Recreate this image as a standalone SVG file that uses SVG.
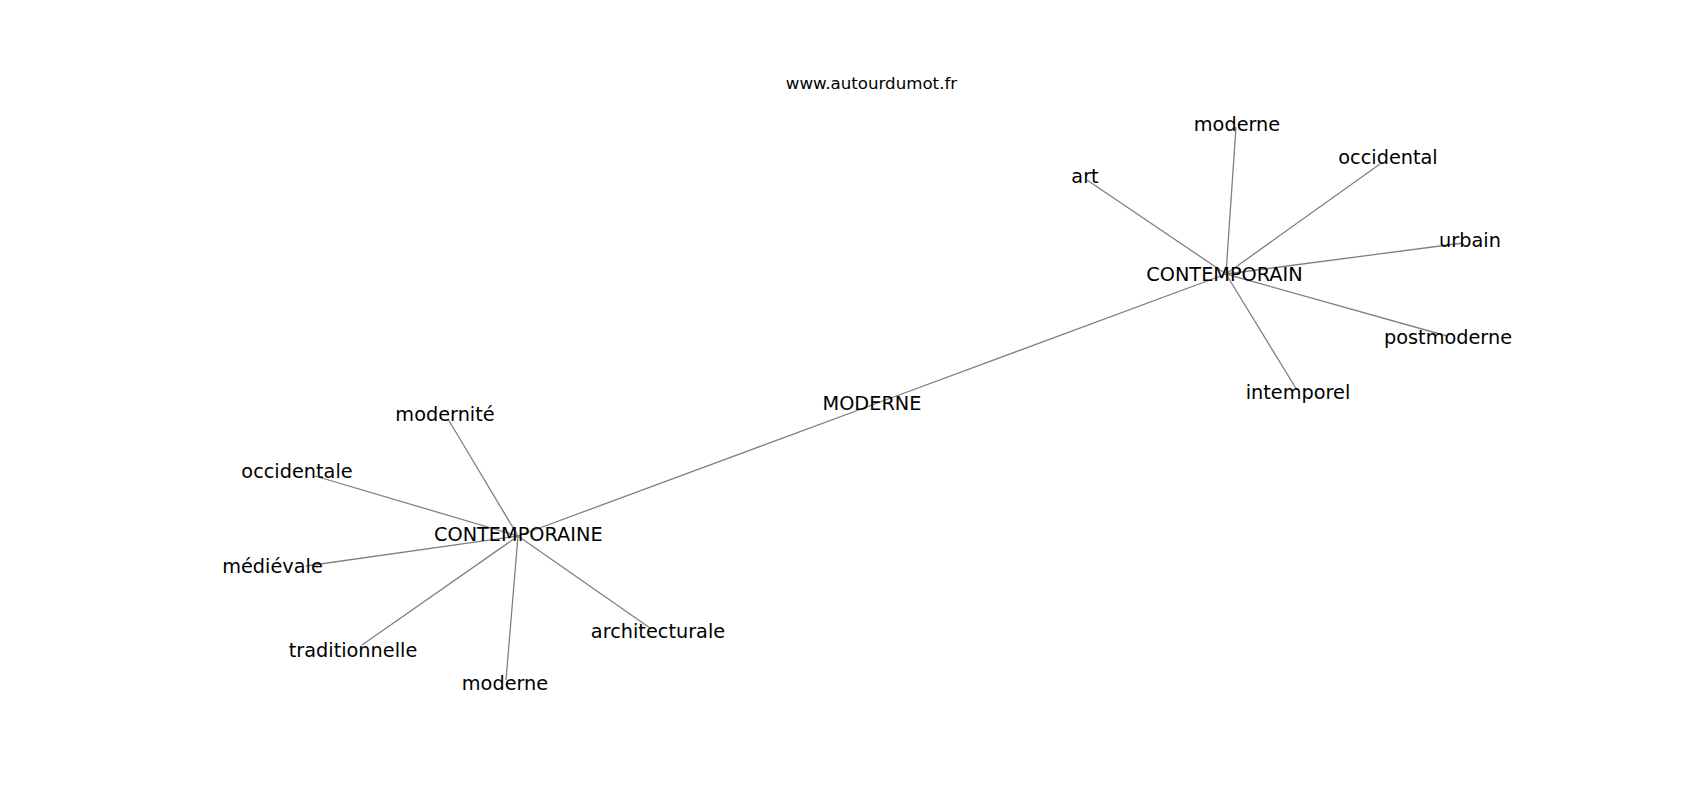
<svg xmlns="http://www.w3.org/2000/svg" width="1700" height="800" viewBox="0 0 1700 800">
<style>
.e{stroke:#808080;stroke-width:1.3;fill:none}
.l{font-family:"DejaVu Sans","Liberation Sans",sans-serif;font-size:19.3px;fill:#000;text-anchor:middle}
.u{font-family:"DejaVu Sans","Liberation Sans",sans-serif;font-size:16.67px;fill:#000;text-anchor:middle}
</style>
<rect width="1700" height="800" fill="#fff"/>
<g id="connectors">
<line class="e" x1="872" y1="405" x2="1226" y2="274"/>
<line class="e" x1="872" y1="405" x2="518" y2="536"/>
<line class="e" x1="1226" y1="274" x2="1087" y2="180"/>
<line class="e" x1="1226" y1="274" x2="1236" y2="127"/>
<line class="e" x1="1226" y1="274" x2="1380" y2="164"/>
<line class="e" x1="1226" y1="274" x2="1463" y2="243"/>
<line class="e" x1="1226" y1="274" x2="1447" y2="336"/>
<line class="e" x1="1226" y1="274" x2="1297" y2="390"/>
<line class="e" x1="518" y1="536" x2="448" y2="419"/>
<line class="e" x1="518" y1="536" x2="315" y2="476"/>
<line class="e" x1="518" y1="536" x2="306" y2="566"/>
<line class="e" x1="518" y1="536" x2="362" y2="645"/>
<line class="e" x1="518" y1="536" x2="506" y2="680"/>
<line class="e" x1="518" y1="536" x2="650" y2="628"/>
</g>
<text class="u" x="871.5" y="88.5">www.autourdumot.fr</text>
<g id="n-moderne-center"><text class="l" x="872" y="410">MODERNE</text></g>
<g id="n-contemporain"><text class="l" x="1224.5" y="280.5">CONTEMPORAIN</text></g>
<g id="n-art"><text class="l" x="1085" y="183">art</text></g>
<g id="n-moderne-r"><text class="l" x="1237" y="131">moderne</text></g>
<g id="n-occidental"><text class="l" x="1388" y="164">occidental</text></g>
<g id="n-urbain"><text class="l" x="1470" y="247">urbain</text></g>
<g id="n-postmoderne"><text class="l" x="1448" y="344">postmoderne</text></g>
<g id="n-intemporel"><text class="l" x="1298" y="399">intemporel</text></g>
<g id="n-contemporaine"><text class="l" x="518.3" y="540.5">CONTEMPORAINE</text></g>
<g id="n-modernite"><text class="l" x="445" y="421">modernité</text></g>
<g id="n-occidentale"><text class="l" x="297" y="478">occidentale</text></g>
<g id="n-medievale"><text class="l" x="272.5" y="573">médiévale</text></g>
<g id="n-traditionnelle"><text class="l" x="353" y="657">traditionnelle</text></g>
<g id="n-moderne-l"><text class="l" x="505" y="690">moderne</text></g>
<g id="n-architecturale"><text class="l" x="658" y="638">architecturale</text></g>
</svg>
